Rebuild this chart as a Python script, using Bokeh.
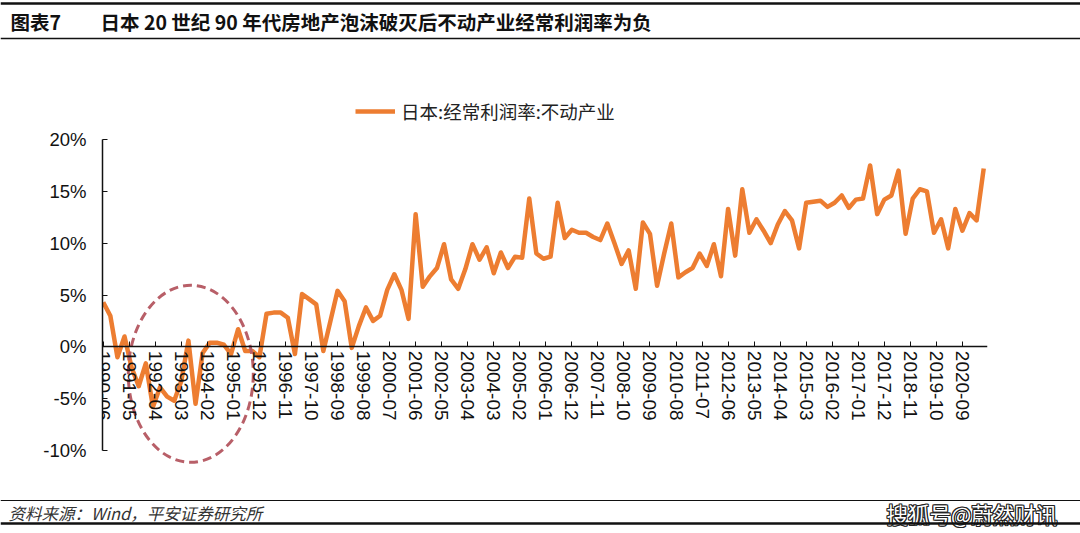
import math
from bokeh.plotting import figure
from bokeh.models import Range1d, FixedTicker, Legend, LegendItem, Span, PrintfTickFormatter
from bokeh.layouts import column
from bokeh.embed import file_html
from bokeh.resources import INLINE
from bokeh.core.properties import value

# ---------------- data ----------------
start_period = "1990-06"   # first quarter-end month
n_quarters = 125           # 1990-06 .. 2021-06, quarterly

profit_margin = [
    4.3, 3.0, -1.0, 1.0, -2.0, -3.8, -1.6, -5.8, -3.9, -4.8,
    -5.2, -3.3, 0.6, -5.5, -0.6, 0.4, 0.4, 0.2, -0.7, 1.7,
    -0.4, -0.4, -1.0, 3.2, 3.3, 3.3, 2.8, -0.7, 5.1, 4.6,
    4.1, -0.4, 2.5, 5.4, 4.4, -0.1, 2.0, 3.8, 2.5, 3.0,
    5.5, 7.0, 5.5, 2.7, 12.8, 5.8, 6.8, 7.6, 9.9, 6.5,
    5.6, 7.5, 9.9, 8.4, 9.6, 7.1, 9.1, 7.6, 8.7, 8.6,
    14.3, 9.0, 8.5, 8.7, 13.9, 10.5, 11.3, 11.0, 11.0, 10.6,
    10.3, 11.9, 10.0, 8.0, 9.3, 5.6, 12.0, 10.9, 5.9, 9.0,
    11.9, 6.7, 7.2, 7.6, 9.0, 7.8, 9.9, 6.8, 13.3, 8.8,
    15.2, 11.0, 12.3, 11.2, 10.0, 11.8, 13.1, 12.2, 9.5, 13.9,
    14.0, 14.1, 13.5, 13.9, 14.6, 13.4, 14.2, 14.3, 17.5, 12.8,
    14.2, 14.6, 17.0, 10.9, 14.3, 15.2, 15.0, 11.0, 12.3, 9.5,
    13.3, 11.2, 12.9, 12.2, 17.2,
]

xtick_labels = [
    "1990-06", "1991-05", "1992-04", "1993-03", "1994-02", "1995-01", "1995-12",
    "1996-11", "1997-10", "1998-09", "1999-08", "2000-07", "2001-06", "2002-05",
    "2003-04", "2004-03", "2005-02", "2006-01", "2006-12", "2007-11", "2008-10",
    "2009-09", "2010-08", "2011-07", "2012-06", "2013-05", "2014-04", "2015-03",
    "2016-02", "2017-01", "2017-12", "2018-11", "2019-10", "2020-09",
]
ytick_values = [-10, -5, 0, 5, 10, 15, 20]

series_name = "日本:经常利润率:不动产业"
title_tag = "图表7"
title_text = "日本 20 世纪 90 年代房地产泡沫破灭后不动产业经常利润率为负"
source_text = "资料来源：Wind，平安证券研究所"
watermark = "搜狐号@蔚然财讯"
highlight_period = "1993-07"   # centre of the dashed circle
highlight_value = -2.6

# ---------------- helpers ----------------
def month_index(s):
    y, m = s.split("-")
    sy, sm = start_period.split("-")
    return (int(y) - int(sy)) * 12 + (int(m) - int(sm))

x_months = [3 * i for i in range(n_quarters)]

ORANGE = "#ED7D31"
CJK = "Noto Sans CJK SC"
LAT = "Liberation Sans"

# ---------------- header ----------------
W = 1080
hdr_h = 42
hdr = figure(width=W, height=hdr_h, x_range=Range1d(0, W), y_range=Range1d(0, hdr_h),
             output_backend="svg", toolbar_location=None, x_axis_type=None, y_axis_type=None,
             min_border=0, outline_line_color=None, frame_align=False)
hdr.grid.visible = False
hdr.add_layout(Span(location=hdr_h - 3, dimension="width", line_color="#111111", line_width=2.5))
hdr.add_layout(Span(location=hdr_h - 38, dimension="width", line_color="#111111", line_width=1.5))
hdr.text(x=[10], y=[hdr_h - 21], text=[title_tag], text_font=value(CJK), text_font_style="bold",
         text_font_size="19.5px", text_baseline="middle", text_color="#111111")
hdr.text(x=[100], y=[hdr_h - 21], text=[title_text], text_font=value(CJK), text_font_style="bold",
         text_font_size="19.5px", text_baseline="middle", text_color="#111111")

# ---------------- main chart ----------------
main_h = 450
px_per_unit = 311 / 30.0
y_top = 20 + (139 - 95) / px_per_unit
y_bot = -10 - (466 - 450) / px_per_unit

p = figure(width=W, height=main_h, x_range=Range1d(-0.3, 373.6), y_range=Range1d(y_bot, y_top),
           output_backend="svg", toolbar_location=None,
           min_border_left=102, min_border_right=93, min_border_top=95 - 42,
           min_border_bottom=(42 + main_h) - 466, outline_line_color=None, frame_align=False)
p.grid.visible = False

r = p.line(x_months, profit_margin, line_color=ORANGE, line_width=4.5, line_join="round")

p.ellipse(x=[month_index(highlight_period)], y=[highlight_value], width=125, height=177,
          width_units="screen", height_units="screen", fill_alpha=0,
          line_color="#B85F68", line_width=3, line_dash="9 5")

# x axis at y = 0
xa = p.xaxis[0]
xa.fixed_location = 0
xa.ticker = FixedTicker(ticks=[month_index(s) for s in xtick_labels])
xa.major_label_overrides = {month_index(s): s for s in xtick_labels}
xa.major_label_orientation = -math.pi / 2
xa.major_tick_in = 5
xa.major_tick_out = 0
xa.minor_tick_line_color = None
xa.axis_line_width = 1.5
xa.axis_line_color = "#111111"
xa.major_tick_line_color = "#111111"
xa.major_label_text_font = LAT
xa.major_label_text_font_size = "19px"
xa.major_label_text_color = "#111111"
xa.major_label_standoff = 4

ya = p.yaxis[0]
ya.bounds = (-10, 20)
ya.ticker = FixedTicker(ticks=ytick_values)
ya.formatter = PrintfTickFormatter(format="%d%%")
ya.major_tick_in = 5
ya.major_tick_out = 0
ya.minor_tick_line_color = None
ya.axis_line_width = 1.5
ya.axis_line_color = "#111111"
ya.major_tick_line_color = "#111111"
ya.major_label_text_font = LAT
ya.major_label_text_font_size = "18.5px"
ya.major_label_text_color = "#111111"
ya.major_label_standoff = 16

legend = Legend(items=[LegendItem(label=series_name, renderers=[r])], location=(253, 342),
                label_text_font=CJK, label_text_font_size="18.5px", label_text_color="#222222",
                glyph_width=40, glyph_height=20, padding=0, margin=0, spacing=0,
                label_standoff=6, border_line_alpha=0, background_fill_alpha=0)
p.add_layout(legend, "center")

# ---------------- footer ----------------
ftr_h = 533 - 42 - main_h
ftr = figure(width=W, height=ftr_h, x_range=Range1d(0, W), y_range=Range1d(0, ftr_h),
             output_backend="svg", toolbar_location=None, x_axis_type=None, y_axis_type=None,
             min_border=0, outline_line_color=None, frame_align=False)
ftr.grid.visible = False
ftr.add_layout(Span(location=ftr_h - 8, dimension="width", line_color="#111111", line_width=1))
ftr.add_layout(Span(location=ftr_h - 31, dimension="width", line_color="#111111", line_width=2.5))
ftr.text(x=[8], y=[ftr_h - 20], text=[source_text], text_font=value(CJK), text_font_style="italic",
         text_font_size="16.5px", text_baseline="middle", text_color="#333333")
for dx, dy in [(-1, 0), (1, 0), (0, -1), (0, 1), (-1, -1), (1, 1), (-1, 1), (1, -1)]:
    ftr.text(x=[886 + dx], y=[ftr_h - 21 + dy], text=[watermark], text_font=value(CJK),
             text_font_size="21.5px", text_baseline="middle", text_color="#222222")
ftr.text(x=[886], y=[ftr_h - 21], text=[watermark], text_font=value(CJK),
         text_font_size="21.5px", text_baseline="middle", text_color="#FFFFFF")

layout = column(hdr, p, ftr, spacing=0)
open("out.html", "w").write(file_html(layout, INLINE))
